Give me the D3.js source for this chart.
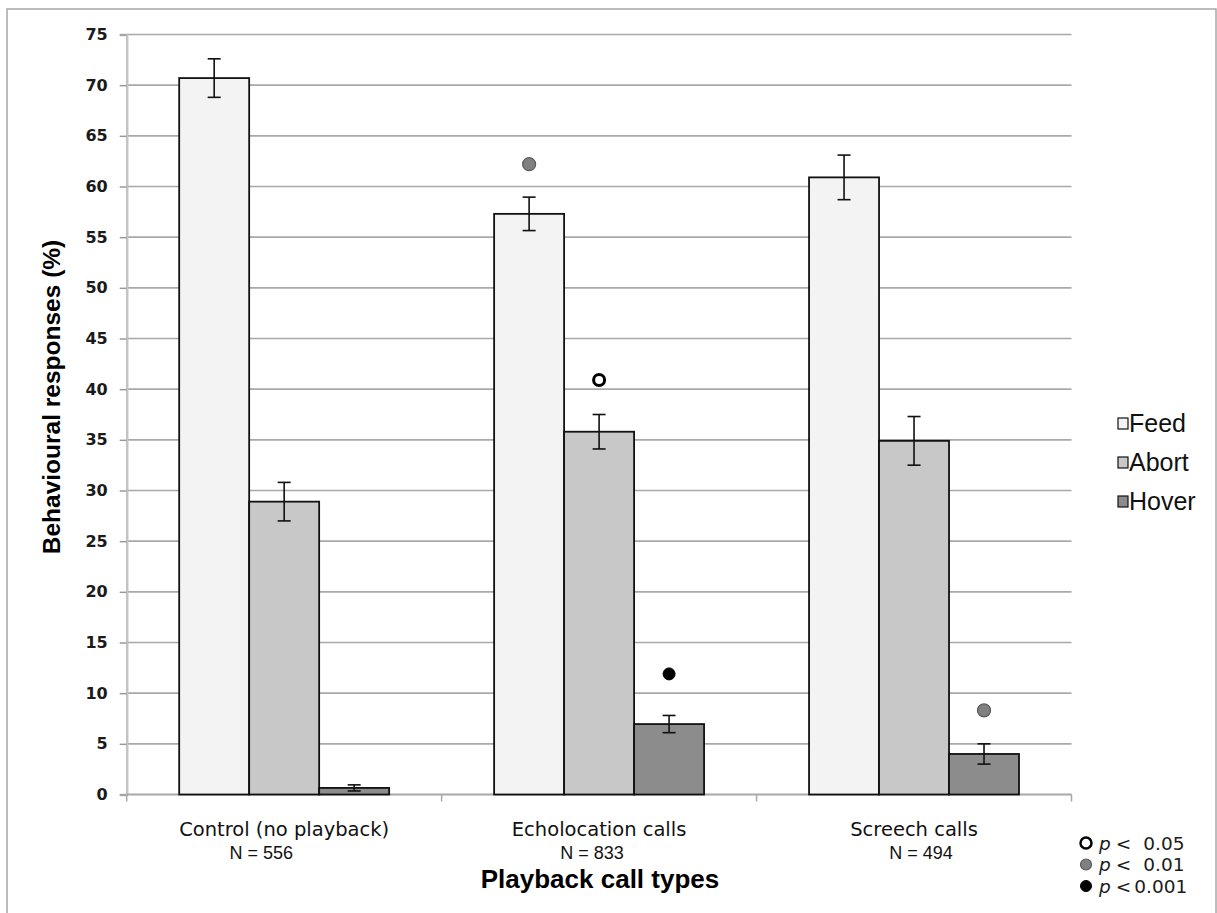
<!DOCTYPE html>
<html>
<head>
<meta charset="utf-8">
<script src="https://cdn.jsdelivr.net/npm/d3@7"></script>
<style>
  html, body { margin: 0; padding: 0; background: #ffffff; }
  svg { display: block; }
</style>
</head>
<body>
<svg id="chart" width="1217" height="913"></svg>
<script>
// ---------------- data ----------------
const categories = ["Control (no playback)", "Echolocation calls", "Screech calls"];
const nLabels = ["N = 556", "N = 833", "N = 494"];
const series = ["Feed", "Abort", "Hover"];
const feedValues  = [70.7, 57.3, 60.9];
const feedErrors  = [1.9, 1.65, 2.2];
const abortValues = [28.9, 35.8, 34.9];
const abortErrors = [1.9, 1.7, 2.4];
const hoverValues = [0.65, 6.95, 4.0];
const hoverErrors = [0.3, 0.85, 1.0];
const yTicks = [0, 5, 10, 15, 20, 25, 30, 35, 40, 45, 50, 55, 60, 65, 70, 75];
// significance markers: category index, series, marker height (%), level
const sigCategory = [1, 1, 1, 2];
const sigSeries   = ["Feed", "Abort", "Hover", "Hover"];
const sigHeight   = [62.2, 40.9, 11.9, 8.3];
const sigLevel    = ["0.01", "0.05", "0.001", "0.01"];
const pLevels = ["0.05", "0.01", "0.001"];

(function () {
// ---------------- styles ----------------
const seriesFill = { Feed: "#f3f3f3", Abort: "#c8c8c8", Hover: "#8c8c8c" };
const markerStyle = {
  "0.05":  { fill: "#ffffff", stroke: "#000000", sw: 3, r: 5.5 },
  "0.01":  { fill: "#808080", stroke: "#5a5a5a", sw: 1.2, r: 6.5 },
  "0.001": { fill: "#000000", stroke: "#000000", sw: 1, r: 6 }
};

const svg = d3.select("#chart");

// outer frame
svg.append("rect").attr("x", 7).attr("y", 9).attr("width", 1209).attr("height", 920)
  .attr("fill", "none").attr("stroke", "#a6a6a6").attr("stroke-width", 1.5);

const pLeft = 126.7, pRight = 1071.5, pTop = 34.5, pBottom = 794.5;

const y = d3.scaleLinear().domain([0, 75]).range([pBottom, pTop]);
const x0 = d3.scaleBand().domain(categories).range([pLeft, pRight]).paddingInner(0).paddingOuter(0);
const x1 = d3.scaleBand().domain(series).range([0, x0.bandwidth()]).paddingInner(0).paddingOuter(0.75);

// grid lines
svg.append("g").selectAll("line").data(yTicks.filter(d => d > 0)).join("line")
  .attr("x1", pLeft).attr("x2", pRight)
  .attr("y1", d => y(d)).attr("y2", d => y(d))
  .attr("stroke", "#a8a8a8").attr("stroke-width", 1.6);

// y axis
const yAxis = d3.axisLeft(y).tickValues(yTicks).tickSize(7).tickPadding(12);
const gy = svg.append("g").attr("transform", `translate(${pLeft},0)`).call(yAxis);
gy.select(".domain").attr("stroke", "#c4c4c4").attr("stroke-width", 2.5);
gy.selectAll(".tick line").attr("stroke", "#9a9a9a").attr("stroke-width", 1.5);
gy.selectAll(".tick text")
  .attr("font-family", "'DejaVu Sans', Verdana, sans-serif")
  .attr("font-weight", "bold").attr("font-size", 16).attr("fill", "#1a1a1a");

// x axis (baseline + tick marks at category boundaries)
svg.append("line").attr("x1", pLeft).attr("x2", pRight).attr("y1", pBottom).attr("y2", pBottom)
  .attr("stroke", "#a8a8a8").attr("stroke-width", 2);
const boundaries = categories.map(c => x0(c)).concat([pRight]);
svg.append("g").selectAll("line").data(boundaries).join("line")
  .attr("x1", d => d).attr("x2", d => d).attr("y1", pBottom).attr("y2", pBottom + 7)
  .attr("stroke", "#a8a8a8").attr("stroke-width", 1.5);

// bars
const valuesBy = { Feed: feedValues, Abort: abortValues, Hover: hoverValues };
const errorsBy = { Feed: feedErrors, Abort: abortErrors, Hover: hoverErrors };
const barData = [];
categories.forEach((c, i) => series.forEach(s => barData.push({ c, s, v: valuesBy[s][i], e: errorsBy[s][i] })));

const bars = svg.append("g");
bars.selectAll("rect").data(barData).join("rect")
  .attr("x", d => x0(d.c) + x1(d.s))
  .attr("y", d => y(d.v))
  .attr("width", x1.bandwidth())
  .attr("height", d => y(0) - y(d.v))
  .attr("fill", d => seriesFill[d.s])
  .attr("stroke", "#111111").attr("stroke-width", 1.8);

// error bars
const eg = svg.append("g").attr("stroke", "#111111").attr("stroke-width", 1.6);
barData.forEach(d => {
  const cx = x0(d.c) + x1(d.s) + x1.bandwidth() / 2;
  eg.append("line").attr("x1", cx).attr("x2", cx).attr("y1", y(d.v + d.e)).attr("y2", y(d.v - d.e));
  eg.append("line").attr("x1", cx - 6.5).attr("x2", cx + 6.5).attr("y1", y(d.v + d.e)).attr("y2", y(d.v + d.e));
  eg.append("line").attr("x1", cx - 6.5).attr("x2", cx + 6.5).attr("y1", y(d.v - d.e)).attr("y2", y(d.v - d.e));
});

// significance markers
sigCategory.forEach((ci, k) => {
  const st = markerStyle[sigLevel[k]];
  svg.append("circle")
    .attr("cx", x0(categories[ci]) + x1(sigSeries[k]) + x1.bandwidth() / 2)
    .attr("cy", y(sigHeight[k]))
    .attr("r", st.r).attr("fill", st.fill).attr("stroke", st.stroke).attr("stroke-width", st.sw);
});

// category labels
const nOffset = [-23, -7, 7];
categories.forEach((c, i) => {
  const cx = x0(c) + x0.bandwidth() / 2;
  svg.append("text").attr("x", cx).attr("y", 836).attr("text-anchor", "middle")
    .attr("font-family", "'DejaVu Sans', sans-serif").attr("font-size", 19.5).attr("fill", "#111").text(c);
  svg.append("text").attr("x", cx + nOffset[i]).attr("y", 859).attr("text-anchor", "middle")
    .attr("font-family", "'Liberation Sans', Arial, sans-serif").attr("font-size", 18).attr("fill", "#111").text(nLabels[i]);
});

// axis titles
svg.append("text").attr("x", 600).attr("y", 888).attr("text-anchor", "middle")
  .attr("font-family", "'Liberation Sans', Arial, sans-serif").attr("font-weight", "bold")
  .attr("font-size", 26).attr("fill", "#000").text("Playback call types");
svg.append("text").attr("transform", "translate(60,397) rotate(-90)").attr("text-anchor", "middle")
  .attr("font-family", "'Liberation Sans', Arial, sans-serif").attr("font-weight", "bold")
  .attr("font-size", 24.5).attr("fill", "#000").text("Behavioural responses (%)");

// series legend
const legY = d3.scalePoint().domain(series).range([432, 510]);
series.forEach(s => {
  svg.append("rect").attr("x", 1118).attr("y", legY(s) - 14).attr("width", 10).attr("height", 11)
    .attr("fill", seriesFill[s]).attr("stroke", "#111").attr("stroke-width", 1.2);
  svg.append("text").attr("x", 1129).attr("y", legY(s))
    .attr("font-family", "'Liberation Sans', Arial, sans-serif").attr("font-size", 25).attr("fill", "#111").text(s);
});

// p-value legend
const pY = d3.scalePoint().domain(pLevels).range([843, 886]);
pLevels.forEach(p => {
  const st = markerStyle[p];
  svg.append("circle").attr("cx", 1086).attr("cy", pY(p)).attr("r", 5.5)
    .attr("fill", st.fill).attr("stroke", st.stroke).attr("stroke-width", p === "0.05" ? 2.5 : st.sw);
  const t = svg.append("text").attr("x", 1099).attr("y", pY(p) + 6.5)
    .attr("font-family", "'DejaVu Sans', sans-serif").attr("font-size", 18.5).attr("fill", "#1a1a1a");
  t.append("tspan").attr("font-style", "italic").text("p");
  t.append("tspan").attr("dx", 5).text("<");
  t.append("tspan").attr("dx", p === "0.001" ? 3 : 12).text(p);
});
})();
</script>
</body>
</html>
